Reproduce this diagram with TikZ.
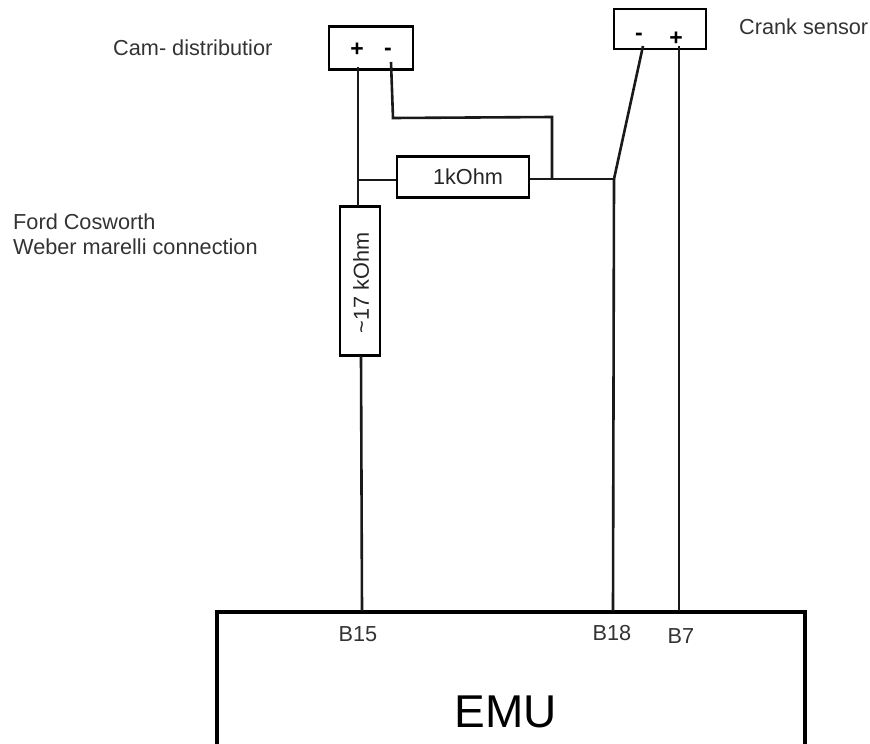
\documentclass[tikz,border=0pt]{standalone}
\usepackage{fontspec}
\setmainfont{Liberation Sans}
\definecolor{inkc}{gray}{0.1}
\begin{document}
\begin{tikzpicture}[x=1pt,y=-1pt,
 wire/.style={draw=inkc,line width=2.6pt},
 box/.style={draw=black,line width=2.8pt,fill=white,inner sep=0pt},
 lab/.style={font=\fontsize{21.7}{24.5}\selectfont,text=black!80,inner sep=0pt},
 sign/.style={font=\bfseries\fontsize{23}{24}\selectfont,inner sep=0pt}]
\useasboundingbox (0,0) rectangle (870,744);
\node[box,minimum width=84pt,minimum height=43pt] (cam) at (371,48) {};
\node[box,minimum width=92pt,minimum height=40pt] (crank) at (660,29) {};
\node[box,minimum width=132pt,minimum height=41pt] (r1) at (463,177) {};
\node[lab,text=black!85] (r1t) at (468,177) {1kOhm};
\node[box,minimum width=40pt,minimum height=149pt] (r2) at (360,281) {};
\node[lab,rotate=90,text=black!85] (r2t) at (361,283) {\textasciitilde17 kOhm};
\coordinate (emuTL) at (217,612);
\coordinate (emuTR) at (805,612);
\coordinate (emuBL) at (217,746);
\coordinate (emuBR) at (805,746);
\draw[draw=black,line width=3.2pt] (emuBL) -- (emuTL) -- (emuTR) -- (emuBR);
\node[font=\fontsize{46}{50}\selectfont,inner sep=0pt] (emu) at (506,712) {EMU};
% pins
\node[sign] (cp) at (357,50) {+};
\node[sign] (cm) at (388,52) {-};
\node[sign] (kp) at (676,39) {+};
\node[sign] (km) at (639,37) {-};
% junctions
\coordinate (a) at (358,67);
\coordinate (b) at (358,180);
\coordinate (b2) at (358,206);
\coordinate (c) at (391,62);
\coordinate (d) at (393,118);
\coordinate (e) at (552,117);
\coordinate (f) at (552,179);
\coordinate (g) at (614,179);
\coordinate (h) at (643,46);
\coordinate (i) at (679,46);
\coordinate (r2b) at (361,356);
\coordinate (b15) at (362,611);
\coordinate (b18) at (613,611);
\coordinate (b7) at (679,611);
\draw[wire] (a) -- (b) -- (b2);
\draw[wire] (b) -- (r1.west |- b);
\draw[wire] (c) -- (d) -- (e) -- (f);
\draw[wire] (r1.east |- f) -- (g);
\draw[wire] (g) -- (h);
\draw[wire] (g) -- (b18);
\draw[wire] (i) -- (b7);
\draw[wire] (r2b) -- (b15);
% labels
\node[lab,anchor=west] (l1) at (113,48) {Cam- distributior};
\node[lab,anchor=west] (l2) at (739,27) {Crank sensor};
\node[lab,anchor=west,align=left] (l3) at (13,234) {Ford Cosworth\\Weber marelli connection};
\node[lab] (l4) at (358,634) {B15};
\node[lab] (l5) at (612,633) {B18};
\node[lab] (l6) at (681,636) {B7};
\end{tikzpicture}
\end{document}
